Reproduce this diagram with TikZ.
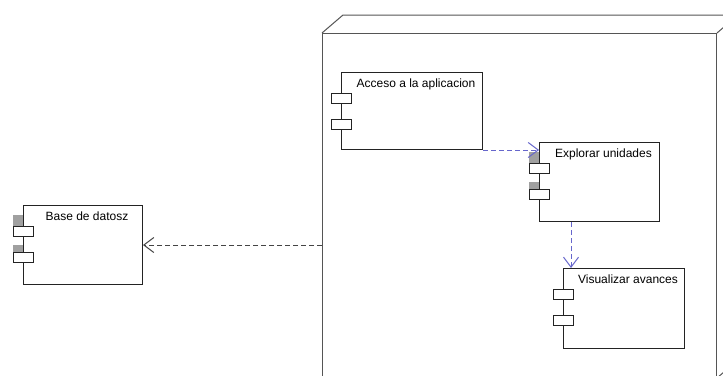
\documentclass[tikz,border=0pt]{standalone}
\usepackage{fontspec}
\setmainfont{Liberation Sans}
\usetikzlibrary{arrows.meta}
\definecolor{edgegray}{RGB}{35,35,35}
\definecolor{nodegray}{RGB}{85,85,85}
\definecolor{linkblue}{RGB}{102,102,204}
\definecolor{portshade}{RGB}{160,160,160}

\begin{document}
\begin{tikzpicture}[x=1pt,y=-1pt, every node/.style={font=\fontsize{12}{14}\selectfont},
    comp/.style={draw=edgegray, line width=1pt, fill=white, anchor=north west, inner sep=0pt},
    port/.style={draw=edgegray, line width=1pt, fill=white},
    dep/.style={dash pattern=on 5pt off 3pt, line width=1pt, -{Straight Barb[length=10pt,width=15pt]}}]
  \clip (0,0) rectangle (723,375);
  \fill[white] (0,0) rectangle (723,375);
  % execution node (3d box)
  \node[draw=nodegray, line width=1pt, anchor=north west, minimum width=394pt, minimum height=344pt, inner sep=0pt] (srv) at (322,33) {};
  \draw[nodegray, line width=1pt] (srv.north west) -- ++(21,-18) -| ([shift={(21,-18)}]srv.south east) -- (srv.south east);
  \draw[nodegray, line width=1pt] (srv.north east) -- ++(21,-18);
  % components
  \node[comp, minimum width=119pt, minimum height=79pt, label={[anchor=base, xshift=4pt, yshift=-15pt]north:Base de datosz}] (base) at (23,205) {};
  \node[comp, minimum width=141pt, minimum height=77pt, label={[anchor=base, xshift=4pt, yshift=-15pt]north:Acceso a la aplicacion}] (acc) at (341,72) {};
  \node[comp, minimum width=120pt, minimum height=79pt, label={[anchor=base, xshift=4pt, yshift=-15pt]north:Explorar unidades}] (expl) at (539,142) {};
  \node[comp, minimum width=121pt, minimum height=80pt, label={[anchor=base, xshift=4pt, yshift=-15pt]north:Visualizar avances}] (vis) at (563,268) {};
  % grey marks above the ports
  \foreach \c in {base,expl} {
    \fill[portshade] ([shift={(-10,10)}]\c.north west) rectangle ++(9.5,11);
    \fill[portshade] ([shift={(-10,40)}]\c.north west) rectangle ++(9.5,7);
  }
  \foreach \c in {base,acc,expl,vis}
    \foreach \dy in {21,47}
      \draw[port] ([shift={(-10,\dy)}]\c.north west) rectangle ++(20,10);
  % dependencies
  \draw[dep, edgegray!85] (srv.west |- base.east) -- (base.east);
  \draw[dep, linkblue] (acc.south east) -- (acc.south east -| expl.west);
  \draw[dep, linkblue] ([xshift=32pt]expl.south west) -- ([xshift=32pt]expl.south west |- vis.north);
\end{tikzpicture}
\end{document}
